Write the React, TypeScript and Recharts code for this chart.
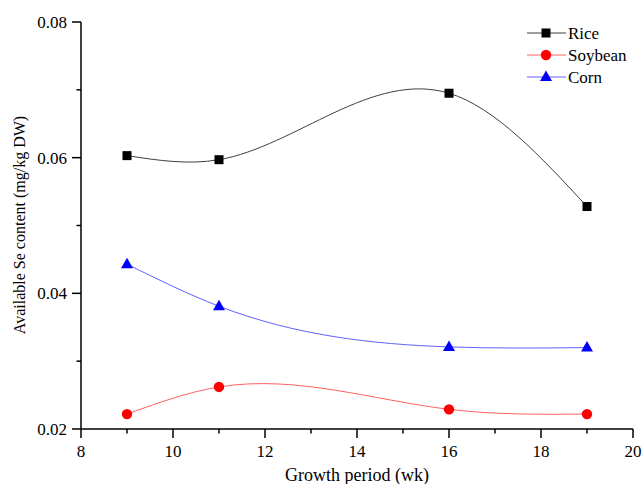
import React from 'react';
import { LineChart, Line, XAxis, YAxis } from 'recharts';

const weeks = [9, 11, 16, 19];
const rice = [0.0603, 0.0597, 0.0695, 0.0528];
const soybean = [0.0222, 0.0262, 0.0229, 0.0222];
const corn = [0.0443, 0.0381, 0.0321, 0.032];

const xTicks = [8, 9, 10, 11, 12, 13, 14, 15, 16, 17, 18, 19, 20];
const yTicks = [0.02, 0.03, 0.04, 0.05, 0.06, 0.07, 0.08];

const data = weeks.map((w, i) => ({
    week: w,
    Rice: rice[i],
    Soybean: soybean[i],
    Corn: corn[i],
}));

const FONT = "'Liberation Serif', 'Times New Roman', Times, serif";

type Shape = 'square' | 'circle' | 'triangle';

const series: { key: string; line: string; fill: string; shape: Shape }[] = [
    { key: 'Rice', line: '#404040', fill: '#000000', shape: 'square' },
    { key: 'Soybean', line: '#ff6060', fill: '#ff0000', shape: 'circle' },
    { key: 'Corn', line: '#6060ff', fill: '#0000ff', shape: 'triangle' },
];

// natural cubic spline with x as the independent variable (like Origin's spline)
const xSpline = (context: any) => {
    let xs: number[] = [];
    let ys: number[] = [];
    return {
        areaStart() {},
        areaEnd() {},
        lineStart() {
            xs = [];
            ys = [];
        },
        point(x: number, y: number) {
            xs.push(+x);
            ys.push(+y);
        },
        lineEnd() {
            const n = xs.length;
            if (!n) return;
            context.moveTo(xs[0], ys[0]);
            if (n === 1) return;
            if (n === 2) {
                context.lineTo(xs[1], ys[1]);
                return;
            }
            const h: number[] = [];
            for (let i = 0; i < n - 1; i++) h.push(xs[i + 1] - xs[i]);
            // tridiagonal solve for second derivatives
            const m = new Array(n).fill(0);
            const a: number[] = [], b: number[] = [], c: number[] = [], r: number[] = [];
            for (let i = 1; i < n - 1; i++) {
                a.push(h[i - 1]);
                b.push(2 * (h[i - 1] + h[i]));
                c.push(h[i]);
                r.push(6 * ((ys[i + 1] - ys[i]) / h[i] - (ys[i] - ys[i - 1]) / h[i - 1]));
            }
            const k = b.length;
            for (let i = 1; i < k; i++) {
                const w = a[i] / b[i - 1];
                b[i] -= w * c[i - 1];
                r[i] -= w * r[i - 1];
            }
            const sol = new Array(k).fill(0);
            sol[k - 1] = r[k - 1] / b[k - 1];
            for (let i = k - 2; i >= 0; i--) sol[i] = (r[i] - c[i] * sol[i + 1]) / b[i];
            for (let i = 0; i < k; i++) m[i + 1] = sol[i];
            for (let i = 0; i < n - 1; i++) {
                const d0 = (ys[i + 1] - ys[i]) / h[i] - (h[i] * (2 * m[i] + m[i + 1])) / 6;
                const d1 = (ys[i + 1] - ys[i]) / h[i] + (h[i] * (m[i] + 2 * m[i + 1])) / 6;
                context.bezierCurveTo(
                    xs[i] + h[i] / 3,
                    ys[i] + (d0 * h[i]) / 3,
                    xs[i + 1] - h[i] / 3,
                    ys[i + 1] - (d1 * h[i]) / 3,
                    xs[i + 1],
                    ys[i + 1]
                );
            }
        },
    };
};

const Marker = ({ cx, cy, shape, fill }: { cx: number; cy: number; shape: Shape; fill: string }) => {
    if (shape === 'square') {
        return <rect x={cx - 4.5} y={cy - 4.5} width={9} height={9} fill={fill} />;
    }
    if (shape === 'circle') {
        return <circle cx={cx} cy={cy} r={5.2} fill={fill} />;
    }
    return <polygon points={`${cx},${cy - 6.5} ${cx + 6},${cy + 4} ${cx - 6},${cy + 4}`} fill={fill} />;
};

const YTick = (props: any) => {
    const { x, y, payload } = props;
    const major = Math.round(payload.value * 100) % 2 === 0;
    return (
        <g>
            <line x1={x} x2={x - (major ? 9 : 4.5)} y1={y} y2={y} stroke="#000" strokeWidth={1.5} />
            {major && (
                <text x={x - 14} y={y + 6} textAnchor="end" fontSize={17} fontFamily={FONT} fill="#000">
                    {payload.value.toFixed(2)}
                </text>
            )}
        </g>
    );
};

const XTick = (props: any) => {
    const { x, y, payload } = props;
    const major = payload.value % 2 === 0;
    return (
        <g>
            <line x1={x} x2={x} y1={y} y2={y + (major ? 9 : 4.5)} stroke="#000" strokeWidth={1.5} />
            {major && (
                <text x={x} y={y + 28} textAnchor="middle" fontSize={17} fontFamily={FONT} fill="#000">
                    {payload.value}
                </text>
            )}
        </g>
    );
};

const LegendBox = () => (
    <svg width={110} height={70} style={{ position: 'absolute', left: 525, top: 22 }}>
        {series.map((s, i) => {
            const cy = 11 + i * 22;
            return (
                <g key={s.key}>
                    <line x1={2} x2={41} y1={cy} y2={cy} stroke={s.line} strokeWidth={1} />
                    <Marker cx={21} cy={cy} shape={s.shape} fill={s.fill} />
                    <text x={43} y={cy + 6} fontSize={17} fontFamily={FONT} fill="#000">
                        {s.key}
                    </text>
                </g>
            );
        })}
    </svg>
);

export default function App() {
    return (
        <div style={{ position: 'absolute', left: 0, top: 0, width: 644, height: 484, background: '#fff' }}>
            <LineChart width={644} height={484} data={data} margin={{ top: 22, right: 11, left: 0, bottom: 0 }}>
                <XAxis
                    dataKey="week"
                    type="number"
                    domain={[8, 20]}
                    ticks={xTicks}
                    interval={0}
                    height={55}
                    tickSize={0}
                    tickMargin={0}
                    tickLine={false}
                    axisLine={{ stroke: '#000', strokeWidth: 1.5 }}
                    tick={XTick}
                    label={{
                        value: 'Growth period (wk)',
                        position: 'insideBottom',
                        offset: 3,
                        fontSize: 18,
                        fontFamily: FONT,
                        fill: '#000',
                    }}
                />
                <YAxis
                    type="number"
                    domain={[0.02, 0.08]}
                    ticks={yTicks}
                    interval={0}
                    width={81}
                    tickSize={0}
                    tickMargin={0}
                    tickLine={false}
                    axisLine={{ stroke: '#000', strokeWidth: 1.5 }}
                    tick={YTick}
                    label={{
                        content: () => (
                            <text
                                transform="translate(25,225) rotate(-90)"
                                textAnchor="middle"
                                fontSize={16}
                                fontFamily={FONT}
                                fill="#000"
                            >
                                Available Se content (mg/kg DW)
                            </text>
                        ),
                    }}
                />
                {series.map((s) => (
                    <Line
                        key={s.key}
                        dataKey={s.key}
                        type={xSpline as any}
                        stroke={s.line}
                        strokeWidth={1}
                        isAnimationActive={false}
                        dot={(p: any) => <Marker key={`${s.key}-${p.index}`} cx={p.cx} cy={p.cy} shape={s.shape} fill={s.fill} />}
                        activeDot={false}
                    />
                ))}
            </LineChart>
            <LegendBox />
        </div>
    );
}
